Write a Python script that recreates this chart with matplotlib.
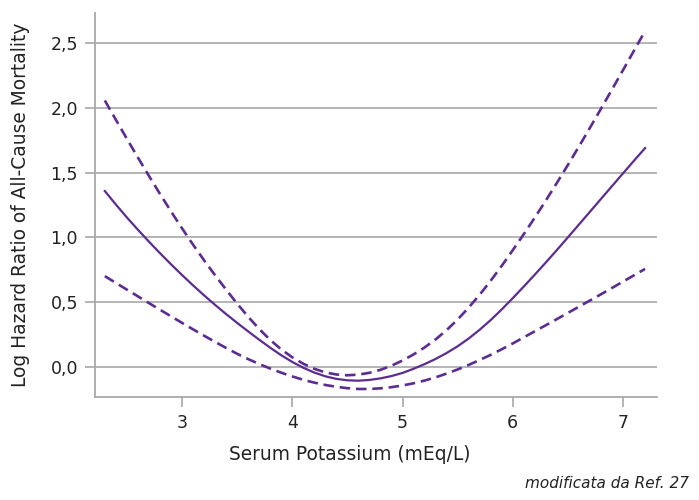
import matplotlib
matplotlib.use("Agg")
import matplotlib.pyplot as plt

plt.rcParams['font.family'] = ['DejaVu Sans']

# serum potassium (mEq/L), read every 0.1
potassium = [2.3, 2.4, 2.5, 2.6, 2.7, 2.8, 2.9, 3.0, 3.1, 3.2,
             3.3, 3.4, 3.5, 3.6, 3.7, 3.8, 3.9, 4.0, 4.1, 4.2,
             4.3, 4.4, 4.5, 4.6, 4.7, 4.8, 4.9, 5.0, 5.1, 5.2,
             5.3, 5.4, 5.5, 5.6, 5.7, 5.8, 5.9, 6.0, 6.1, 6.2,
             6.3, 6.4, 6.5, 6.6, 6.7, 6.8, 6.9, 7.0, 7.1, 7.2]
# log hazard ratio
log_hr = [1.358, 1.254, 1.154, 1.059, 0.967, 0.878, 0.792, 0.709, 0.629, 0.552,
          0.478, 0.407, 0.339, 0.273, 0.209, 0.147, 0.089, 0.037, -0.008, -0.045,
          -0.074, -0.094, -0.105, -0.108, -0.102, -0.090, -0.072, -0.048, -0.016, 0.020,
          0.060, 0.106, 0.158, 0.218, 0.286, 0.361, 0.443, 0.530, 0.620, 0.712,
          0.806, 0.902, 1.000, 1.099, 1.198, 1.297, 1.396, 1.495, 1.593, 1.690]
# upper 95% CI
upper_ci = [2.058, 1.909, 1.762, 1.617, 1.475, 1.336, 1.201, 1.070, 0.944, 0.823,
            0.707, 0.596, 0.488, 0.386, 0.292, 0.207, 0.134, 0.073, 0.023, -0.016,
            -0.044, -0.060, -0.066, -0.061, -0.047, -0.024, 0.008, 0.048, 0.095, 0.149,
            0.211, 0.283, 0.365, 0.457, 0.557, 0.665, 0.780, 0.901, 1.025, 1.153,
            1.285, 1.421, 1.560, 1.702, 1.847, 1.994, 2.143, 2.293, 2.444, 2.595]
# lower 95% CI
lower_ci = [0.700, 0.648, 0.596, 0.544, 0.492, 0.441, 0.390, 0.339, 0.289, 0.240,
            0.192, 0.145, 0.100, 0.059, 0.021, -0.014, -0.046, -0.075, -0.101, -0.123,
            -0.141, -0.155, -0.166, -0.172, -0.172, -0.167, -0.158, -0.145, -0.128, -0.107,
            -0.082, -0.053, -0.021, 0.014, 0.052, 0.092, 0.135, 0.180, 0.227, 0.274,
            0.321, 0.368, 0.416, 0.464, 0.512, 0.560, 0.609, 0.658, 0.707, 0.756]

yticks = [0.0, 0.5, 1.0, 1.5, 2.0, 2.5]
ytick_labels = ['0,0', '0,5', '1,0', '1,5', '2,0', '2,5']
xticks = [3, 4, 5, 6, 7]

purple = '#5b2d90'
grey = '#a8a8a8'
ink = '#222222'

fig = plt.figure(figsize=(6.99, 5.0), dpi=100)
ax = fig.add_axes([95/699, 1 - 397/500, (657 - 95)/699, (397 - 13)/500])

ax.plot(potassium, log_hr, color=purple, lw=1.6, zorder=3)
ax.plot(potassium, upper_ci, color=purple, lw=1.9, dashes=(4.0, 2.2), zorder=3)
ax.plot(potassium, lower_ci, color=purple, lw=1.9, dashes=(4.0, 2.2), zorder=3)

ax.set_xlim(2.211, 7.308)
ax.set_ylim(-0.234, 2.734)

ax.set_yticks(yticks)
ax.set_yticklabels(ytick_labels)
ax.set_xticks(xticks)
ax.yaxis.grid(True, color=grey, lw=1.2)
ax.set_axisbelow(True)

for side in ['top', 'right']:
    ax.spines[side].set_visible(False)
for side in ['left', 'bottom']:
    ax.spines[side].set_color(grey)
    ax.spines[side].set_linewidth(1.3)

ax.tick_params(axis='both', length=7.2, width=1.2, color=grey, pad=5,
               labelsize=12.5, labelcolor=ink)

ax.set_xlabel('Serum Potassium (mEq/L)', fontsize=13.4, color=ink)
ax.set_ylabel('Log Hazard Ratio of All-Cause Mortality', fontsize=13.4, color=ink)
ax.xaxis.set_label_coords((350 - 95) / 562, (397 - 445) / 384)
ax.yaxis.set_label_coords((30 - 95) / 562, 0.5)

fig.text(689/699, 1 - 484/500, 'modificata da Ref. 27', ha='right', va='center',
         fontsize=11, style='italic', color=ink)

fig.savefig('out.png', dpi=100)
